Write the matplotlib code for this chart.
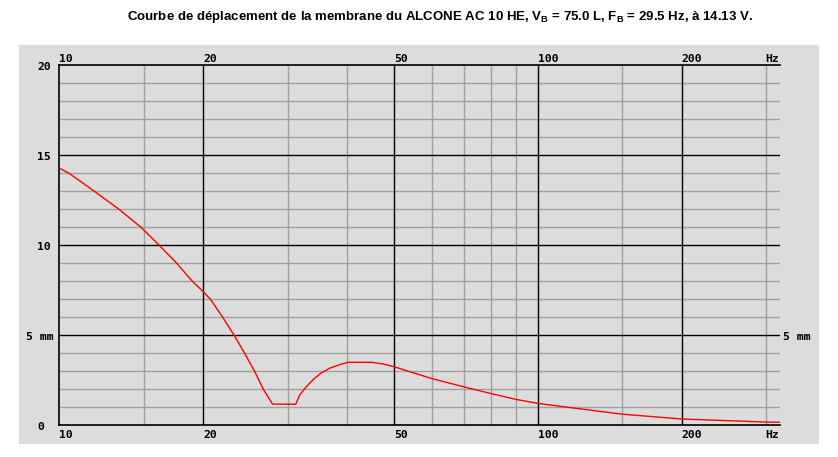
import matplotlib
matplotlib.use("Agg")
import matplotlib.pyplot as plt
from matplotlib.patches import Rectangle
import matplotlib.transforms as mtransforms

# ---- data ----
freq_hz = [10, 10.48, 11.84, 13.33, 14.82, 16.18, 17.6, 18.97, 20, 20.7, 21.96, 23.2, 24.4, 25.6, 26.7, 27.9,
           31.2, 31.8, 32.5, 33.1, 34.0, 35.2, 36.8, 38.6, 40.1, 45, 47.6, 50,
           60, 70, 80, 90, 100, 111, 150, 200, 300, 321]
displacement_mm = [14.29, 14.0, 13.0, 12.0, 11.0, 10.0, 9.0, 8.0, 7.42, 7.0, 6.0, 5.0, 4.0, 3.0, 2.0, 1.18,
                   1.17, 1.68, 2.0, 2.24, 2.56, 2.89, 3.18, 3.37, 3.5, 3.5, 3.4, 3.26,
                   2.6, 2.14, 1.76, 1.44, 1.22, 1.06, 0.62, 0.35, 0.18, 0.17]

x_grid_minor = [15, 30, 40, 60, 70, 80, 90, 150, 300]
x_grid_major = [20, 50, 100, 200]
x_tick_vals = [10, 20, 50, 100, 200]
x_tick_labels = ["10", "20", "50", "100", "200"]
y_grid_minor = [1, 2, 3, 4, 6, 7, 8, 9, 11, 12, 13, 14, 16, 17, 18, 19]
y_grid_major = [5, 10, 15]
y_tick_vals = [20, 15, 10, 5, 0]
y_tick_labels = ["20", "15", "10", "5 mm", "0"]

title = ("Courbe de déplacement de la membrane du ALCONE AC 10 HE, "
         "V$_\\mathregular{B}$ = 75.0 L, F$_\\mathregular{B}$ = 29.5 Hz, à 14.13 V.")

W, H = 838, 457
fig = plt.figure(figsize=(W / 100, H / 100), dpi=100)
fig.patch.set_facecolor("white")

bg = "#DCDCDC"
fig.patches.append(Rectangle((19 / W, 1 - 444 / H), 800 / W, 399 / H,
                             transform=fig.transFigure, facecolor=bg, edgecolor="none", zorder=-10))

left, right, top, bottom = 59.3, 780, 65.3, 425.3
ax = fig.add_axes([left / W, 1 - bottom / H, (right - left) / W, (bottom - top) / H])
ax.set_zorder(1)
ax.set_facecolor(bg)
ax.set_xscale("log")
ax.set_xlim(10, 321)
ax.set_ylim(0, 20)
ax.set_xticks([])
ax.set_yticks([])
ax.minorticks_off()
for s in ["left", "bottom", "top"]:
    ax.spines[s].set_color("black")
    ax.spines[s].set_linewidth(1.2)
ax.spines["right"].set_visible(False)

gc = "#A0A0A0"
lw = 1.0
for f in x_grid_minor:
    ax.axvline(f, color=gc, lw=lw, zorder=1)
for f in x_grid_major:
    ax.axvline(f, color="black", lw=lw, zorder=1.5)
for v in y_grid_minor:
    ax.axhline(v, color=gc, lw=lw, zorder=1)
for v in y_grid_major:
    ax.axhline(v, color="black", lw=lw, zorder=1.5)

ax.plot(freq_hz, displacement_mm, color="red", lw=1.0, zorder=3)

font = dict(family="DejaVu Sans Mono", fontweight="bold", fontsize=8.2, color="black")

# x labels top & bottom
tx = ax.get_xaxis_transform()
off_top = mtransforms.offset_copy(tx, fig=fig, x=0, y=1, units="dots")
off_bot = mtransforms.offset_copy(tx, fig=fig, x=0, y=-5, units="dots")
for v, lab in zip(x_tick_vals, x_tick_labels):
    ax.text(v, 1, lab, transform=off_top, ha="left", va="bottom", clip_on=False, **font)
    ax.text(v, 0, lab, transform=off_bot, ha="left", va="top", clip_on=False, **font)
ax.text(1.0, 1, "Hz", transform=mtransforms.offset_copy(ax.transAxes, fig=fig, x=-1, y=1, units="dots"),
        ha="right", va="bottom", clip_on=False, **font)
ax.text(1.0, 0, "Hz", transform=mtransforms.offset_copy(ax.transAxes, fig=fig, x=-1, y=-5, units="dots"),
        ha="right", va="top", clip_on=False, **font)

# y labels
for v, lab in zip(y_tick_vals, y_tick_labels):
    xpx = 26 if "mm" in lab else 37
    fig.text(xpx / W, 1 - (bottom - (bottom - top) * v / 20 + 1.5) / H, lab,
             ha="left", va="center", **font)
fig.text(783 / W, 1 - (bottom - (bottom - top) * 5 / 20 + 1.5) / H, "5 mm",
         ha="left", va="center", **font)

fig.text(440 / W, 1 - 17 / H, title, ha="center", va="center",
         family="Liberation Sans", fontweight="bold", fontsize=9.5)

fig.savefig("out.png", dpi=100, facecolor="white")
